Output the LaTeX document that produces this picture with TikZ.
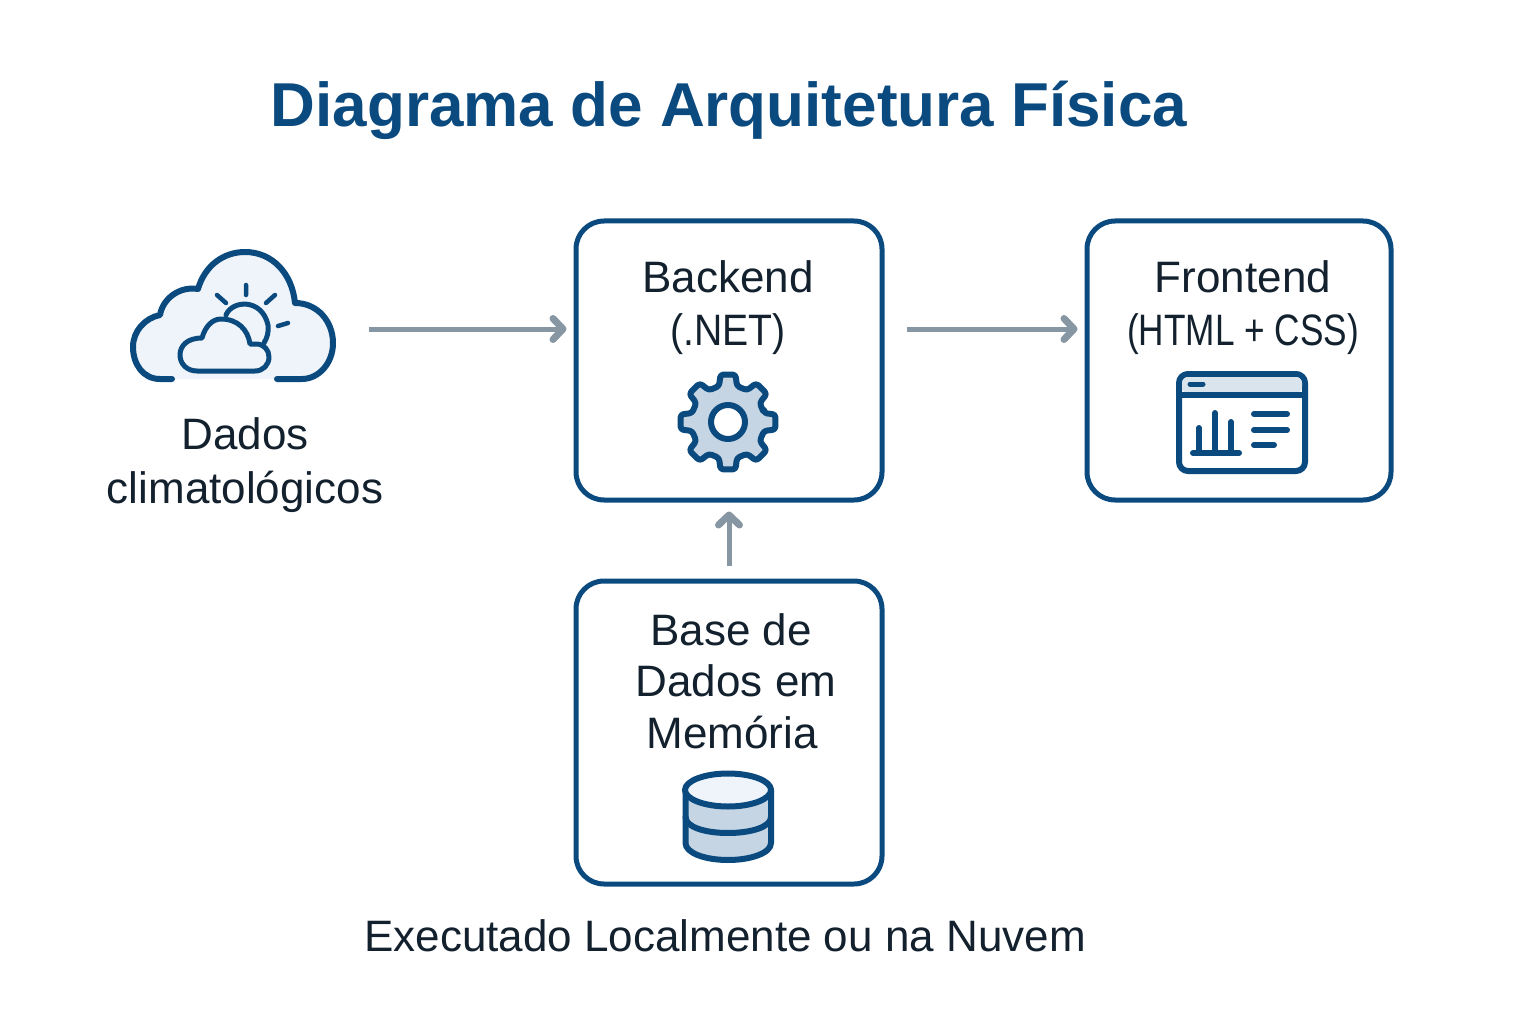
\documentclass[tikz,border=0pt]{standalone}
\usepackage{fontspec}
\setmainfont{Liberation Sans}
\usepackage{tikz}
\usetikzlibrary{arrows.meta,positioning,calc}

\definecolor{navy}{HTML}{0B4A7F}
\definecolor{slate}{HTML}{8796A3}
\definecolor{ink}{HTML}{13212E}
\definecolor{pale}{HTML}{EEF4FA}
\definecolor{steel}{HTML}{C5D5E3}
\definecolor{barfill}{HTML}{D9E4EC}

\begin{document}
\begin{tikzpicture}[
  x=1pt, y=-1pt,
  box/.style={draw=navy, line width=5pt, rounded corners=28pt, fill=white, minimum width=306pt},
  lab/.style={text=ink, align=center, inner sep=0pt, font=\fontsize{44}{52}\selectfont},
  flow/.style={draw=slate, line width=5pt, line join=round, -{Straight Barb[length=10pt,width=21pt,round,line width=7pt]}},
  icon/.style={draw=navy, line width=6pt, line cap=round, line join=round}
]
\useasboundingbox (0,0) rectangle (1536,1024);

\node[inner sep=0pt, anchor=base, text=navy, font=\fontsize{62}{70}\selectfont\bfseries] (title) at (729,127) {Diagrama de Arquitetura Física};

\node[box, minimum height=279pt] (backend) at (729,360.5) {};
\node[box, minimum height=279pt, minimum width=304pt] (frontend) at (1239,360.5) {};
\node[box, minimum height=303pt] (database) at (729,732.5) {};
\node[minimum width=204pt, minimum height=160pt, inner sep=0pt] (clima) at (233,329) {};

% labels
\node[lab, anchor=base] (backendlab) at (728,293) {Backend};
\node[lab, anchor=base] (netlab) at (728,345) {\scalebox{0.89}[1]{(.NET)}};
\node[lab, anchor=base] (frontendlab) at (1243,293) {Frontend};
\node[lab, anchor=base] (htmllab) at (1243,345) {\scalebox{0.8}[1]{(HTML + CSS)}};
\node[lab, anchor=base] (dadoslab) at (245,449) {Dados};
\node[lab, anchor=base] (climalab) at (245,503) {climatológicos};
\node[lab, anchor=base] (baselab) at (731,645) {Base de};
\node[lab, anchor=base] (dadosemlab) at (736,696) {Dados em};
\node[lab, anchor=base] (memlab) at (732,748) {Memória};
\node[lab, below=33pt of database, xshift=-4pt] (caption) {Executado Localmente ou na Nuvem};

% connectors
\draw[flow, shorten <=34pt, shorten >=7pt] (clima.east) -- (clima.east -| backend.west);
\draw[flow, shorten <=22pt, shorten >=7pt] (clima.east -| backend.east) -- (clima.east -| frontend.west);
\draw[flow, shorten <=13pt, shorten >=9pt] (database.north) -- (backend.south);

% cloud
\fill[pale] (175,379) -- (160,379) .. controls (143,379) and (133,364) .. (133,347)
  .. controls (133,331) and (145,318) .. (160,315) .. controls (163,298) and (180,286) .. (198,289)
  .. controls (205,265) and (224,252) .. (245,252) .. controls (272,252) and (292,273) .. (295,303)
  .. controls (318,303) and (333,322) .. (333,343) .. controls (333,364) and (318,379) .. (302,379) -- cycle;
\draw[icon] (172,379) -- (160,379) .. controls (143,379) and (133,364) .. (133,347)
  .. controls (133,331) and (145,318) .. (160,315) .. controls (163,298) and (180,286) .. (198,289)
  .. controls (205,265) and (224,252) .. (245,252) .. controls (272,252) and (292,273) .. (295,303)
  .. controls (318,303) and (333,322) .. (333,343) .. controls (333,364) and (318,379) .. (302,379) -- (277,379);
\draw[icon, line width=5pt] (226,315) .. controls (232,300) and (262,298) .. (268,325) .. controls (269,332) and (267,338) .. (264,343);
\draw[icon, line width=5pt, fill=pale] (197,371) .. controls (187,371) and (180,364) .. (180,355)
  .. controls (180,346) and (187,338) .. (202,338) .. controls (205,327) and (212,319) .. (221,319)
  .. controls (238,319) and (248,330) .. (250,344) -- (256,344) .. controls (264,344) and (269,350) .. (269,357)
  .. controls (269,365) and (263,371) .. (255,371) -- cycle;
\draw[icon, line width=4.5pt] (217,295) -- (226,303) (246,285) -- (246,295) (275,295) -- (266,303) (278,326) -- (288,323);

% gear
\begin{scope}[shift={(728,422)}]
  \draw[icon, fill=steel, rounded corners=3pt]
    (-14:37) \foreach \a in {0,45,...,315} { -- (\a-14:37) -- (\a-9:48) -- (\a+9:48) -- (\a+14:37) } -- cycle;
  \draw[icon, fill=white] (0,0) circle (17);
\end{scope}

% window
\draw[icon, fill=white, rounded corners=9pt] (1179,374) rectangle (1305,471);
\fill[barfill, rounded corners=6pt] (1182,377) rectangle (1302,393);
\draw[icon, line width=5.5pt] (1179,395) -- (1305,395);
\draw[icon, line width=5pt] (1190,384) -- (1203,384);
\draw[icon] (1193,453) -- (1239,453) (1199,453) -- (1199,428) (1215,453) -- (1215,413) (1231,453) -- (1231,422);
\draw[icon] (1254,414) -- (1287,414) (1254,430) -- (1287,430) (1254,445) -- (1274,445);

% database
\draw[icon, fill=steel] (685.5,790) -- (685.5,843) .. controls (685.5,853) and (705,860) .. (728,860)
  .. controls (751,860) and (771,853) .. (771,843) -- (771,790) -- cycle;
\draw[icon] (685.5,817) .. controls (685.5,827) and (705,833) .. (728,833) .. controls (751,833) and (771,827) .. (771,817);
\draw[icon, fill=pale] (728,790) ellipse (43 and 16.5);
\end{tikzpicture}
\end{document}
